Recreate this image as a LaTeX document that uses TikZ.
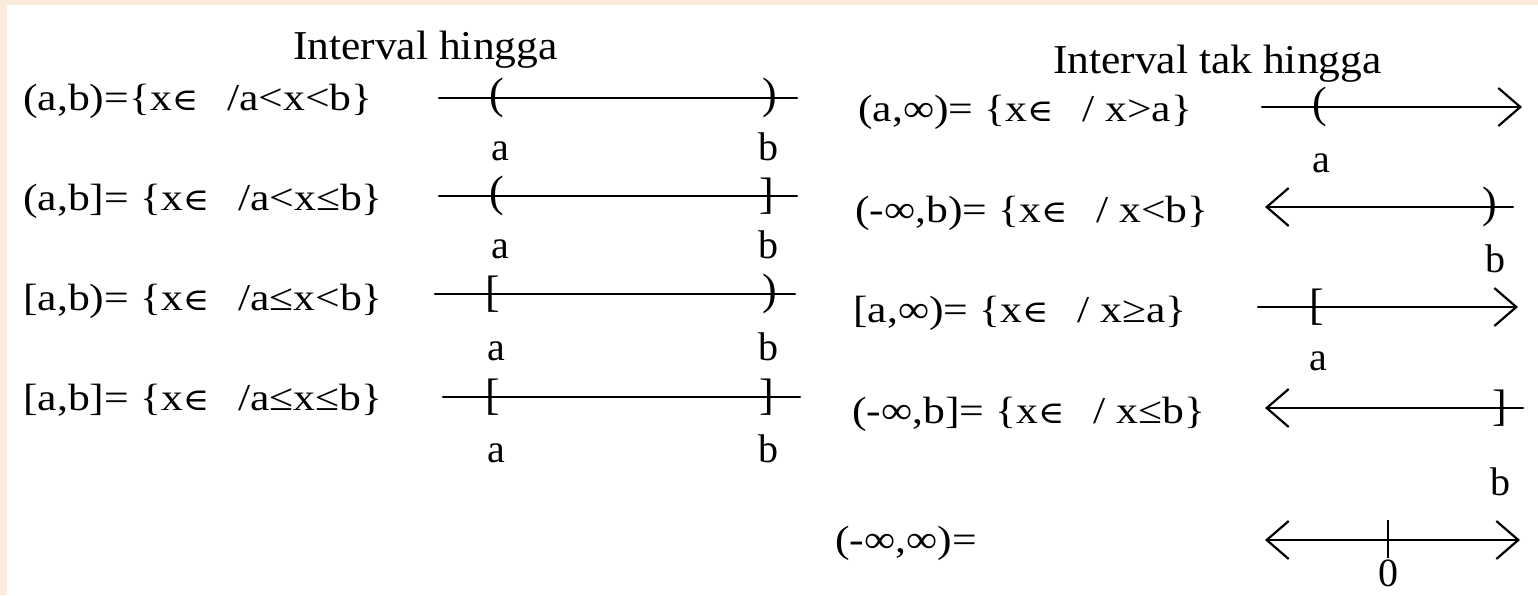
\documentclass[tikz,border=0pt]{standalone}
\usepackage{fontspec}
\setmainfont{Liberation Serif}
\newfontfamily\symf{DejaVu Serif}
\usetikzlibrary{arrows.meta}
\definecolor{bgpeach}{HTML}{FAEBDC}
\newcommand{\wx}[1]{\scalebox{1.15}[1]{#1}}
\newcommand{\hx}[1]{\scalebox{1.06}[1]{#1}}
\newcommand{\elm}{{\symf\fontsize{31}{31}\selectfont ∈}}
\newcommand{\gp}{\hspace{25pt}}
\begin{document}
\begin{tikzpicture}[x=1pt,y=-1pt,
  numline/.style={line width=2.2pt, line cap=round},
  brk/.style={font=\fontsize{44}{44}\selectfont, inner sep=0pt, anchor=center},
  lbl/.style={font=\fontsize{40}{40}\selectfont, inner sep=0pt, anchor=base},
  formula/.style={font=\fontsize{38}{40}\selectfont, inner sep=0pt, anchor=base west},
  heading/.style={font=\fontsize{41}{44}\selectfont, inner sep=0pt, anchor=base west},
  barb/.tip={Straight Barb[length=22pt,width=38pt]}]
\useasboundingbox (0,0) rectangle (1538,595);
\fill[bgpeach] (0,0) rectangle (1538,595);
\fill[white] (7,5) rectangle (1538,595);

% headings
\node[heading] (hl) at (293,59) {\hx{Interval hingga}};
\node[heading] (hr) at (1053,73) {\hx{Interval tak hingga}};

% left formulas
\node[formula] (f1) at (23,110) {\wx{(a,b)=\{x\elm\gp/a<x<b\}}};
\node[formula] (f2) at (23,210) {\wx{(a,b]= \{x\elm\gp/a<x≤b\}}};
\node[formula] (f3) at (23,310) {\wx{[a,b)= \{x\elm\gp/a≤x<b\}}};
\node[formula] (f4) at (23,410) {\wx{[a,b]= \{x\elm\gp/a≤x≤b\}}};

% right formulas
\node[formula] (g1) at (858,121) {\wx{(a,∞)= \{x\elm\gp/ x>a\}}};
\node[formula] (g2) at (855,222) {\wx{(-∞,b)= \{x\elm\gp/ x<b\}}};
\node[formula] (g3) at (853,322) {\wx{[a,∞)= \{x\elm\gp/ x≥a\}}};
\node[formula] (g4) at (852,423) {\wx{(-∞,b]= \{x\elm\gp/ x≤b\}}};
\node[formula] (g5) at (835,552) {\wx{(-∞,∞)=}};

% left number lines
\coordinate (l1s) at (439,98);  \coordinate (l1e) at (797,98);
\draw[numline] (l1s) -- (l1e);
\node[brk] (l1a) at (497,98) {(};  \node[brk] (l1b) at (770,98) {)};
\node[lbl] (l1la) at (500,160) {a}; \node[lbl] (l1lb) at (768,160) {b};

\coordinate (l2s) at (439,196); \coordinate (l2e) at (797,196);
\draw[numline] (l2s) -- (l2e);
\node[brk] (l2a) at (497,196) {(};  \node[brk] (l2b) at (767,196) {]};
\node[lbl] (l2la) at (500,258) {a}; \node[lbl] (l2lb) at (768,258) {b};

\coordinate (l3s) at (435,294); \coordinate (l3e) at (795,294);
\draw[numline] (l3s) -- (l3e);
\node[brk] (l3a) at (493,294) {[};  \node[brk] (l3b) at (770,294) {)};
\node[lbl] (l3la) at (496,360) {a}; \node[lbl] (l3lb) at (768,360) {b};

\coordinate (l4s) at (443,397); \coordinate (l4e) at (800,397);
\draw[numline] (l4s) -- (l4e);
\node[brk] (l4a) at (493,397) {[};  \node[brk] (l4b) at (767,397) {]};
\node[lbl] (l4la) at (496,462) {a}; \node[lbl] (l4lb) at (768,462) {b};

% right number lines
\coordinate (r1s) at (1262,107); \coordinate (r1e) at (1522,107);
\draw[numline,-barb] (r1s) -- (r1e);
\node[brk] (r1a) at (1320,107) {(};
\node[lbl] (r1la) at (1321,172) {a};

\coordinate (r2s) at (1265,207); \coordinate (r2e) at (1513,207);
\draw[numline,barb-] (r2s) -- (r2e);
\node[brk] (r2b) at (1490,207) {)};
\node[lbl] (r2lb) at (1495,272) {b};

\coordinate (r3s) at (1258,307); \coordinate (r3e) at (1518,307);
\draw[numline,-barb] (r3s) -- (r3e);
\node[brk] (r3a) at (1317,307) {[};
\node[lbl] (r3la) at (1318,370) {a};

\coordinate (r4s) at (1265,408); \coordinate (r4e) at (1523,408);
\draw[numline,barb-] (r4s) -- (r4e);
\node[brk] (r4b) at (1500,408) {]};
\node[lbl] (r4lb) at (1500,495) {b};

\coordinate (r5s) at (1265,540); \coordinate (r5e) at (1520,540);
\draw[numline,barb-barb] (r5s) -- (r5e);
\coordinate (t0a) at (1388,520); \coordinate (t0b) at (1388,558);
\draw[line width=2pt] (t0a) -- (t0b);
\node[lbl] (r5l0) at (1388,586) {0};
\end{tikzpicture}
\end{document}
